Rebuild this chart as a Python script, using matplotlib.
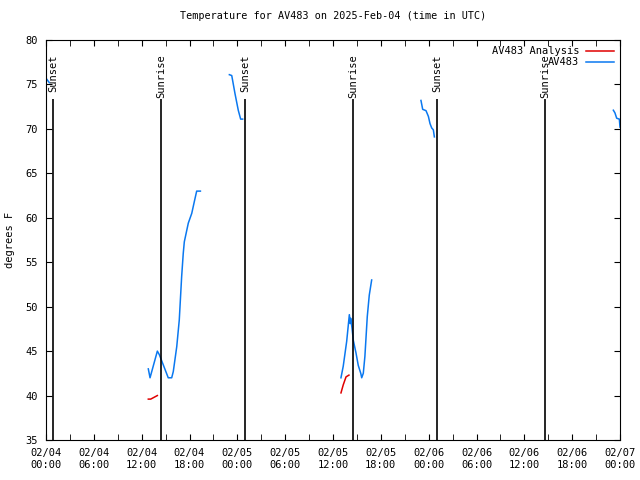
import matplotlib
matplotlib.use("Agg")
import matplotlib.pyplot as plt
import matplotlib.dates as mdates
from datetime import datetime

plt.rcParams['font.family'] = ['DejaVu Sans Mono']
plt.rcParams['font.size'] = 7.5

def ts(lst):
    return [datetime.strptime(s, "%m/%d %H:%M").replace(year=2025) for s in lst]

# observed temperature (blue), one list per contiguous segment
obs0_t = ["02/04 00:05", "02/04 00:25"]
obs0_v = [75.6, 75.2]
obs1_t = ["02/04 12:50", "02/04 13:03", "02/04 13:58", "02/04 14:13", "02/04 15:20",
          "02/04 15:46", "02/04 15:58", "02/04 16:24", "02/04 16:43", "02/04 16:54",
          "02/04 17:01", "02/04 17:13", "02/04 17:21", "02/04 17:51", "02/04 18:17",
          "02/04 18:36", "02/04 18:54", "02/04 19:22"]
obs1_v = [43, 42, 45, 44.6, 42, 42, 42.7, 45.5, 48.5, 51.5, 53.4, 56, 57.3, 59.4,
          60.5, 61.8, 63, 63]
obs2_t = ["02/04 23:00", "02/04 23:18", "02/04 23:42", "02/05 00:07", "02/05 00:25",
          "02/05 00:40"]
obs2_v = [76.1, 76, 74, 72.1, 71.1, 71.1]
obs3_t = ["02/05 13:00", "02/05 13:17", "02/05 13:43", "02/05 14:03", "02/05 14:10",
          "02/05 14:13", "02/05 14:23", "02/05 14:33", "02/05 14:53", "02/05 15:10",
          "02/05 15:29", "02/05 15:36", "02/05 15:48", "02/05 16:00", "02/05 16:18",
          "02/05 16:33", "02/05 16:51"]
obs3_v = [42.0, 43.3, 46.1, 49.1, 48.1, 48.7, 47.6, 46.2, 44.8, 43.4, 42.5, 42,
          42.5, 44.4, 48.9, 51.3, 53]
obs4_t = ["02/05 23:02", "02/05 23:15", "02/05 23:40", "02/05 23:58", "02/06 00:10",
          "02/06 00:23", "02/06 00:35", "02/06 00:43"]
obs4_v = [73.2, 72.2, 72.05, 71.4, 70.6, 70.1, 69.9, 69.1]
obs5_t = ["02/06 23:10", "02/06 23:22", "02/06 23:35", "02/06 23:55", "02/07 00:00"]
obs5_v = [72.1, 71.8, 71.2, 71.1, 70.2]

# analysis (red)
ana1_t = ["02/04 12:50", "02/04 13:08", "02/04 13:33", "02/04 13:58"]
ana1_v = [39.6, 39.6, 39.8, 40.0]
ana2_t = ["02/05 13:00", "02/05 13:17", "02/05 13:38", "02/05 14:00"]
ana2_v = [40.3, 41.2, 42.1, 42.3]

# sun events
sun_t = ["02/04 00:53", "02/04 14:26", "02/05 00:58", "02/05 14:31", "02/06 01:03",
         "02/06 14:35"]
sun_lab = ["Sunset", "Sunrise", "Sunset", "Sunrise", "Sunset", "Sunrise"]

blue = '#0a78f0'
red = '#e00000'

fig = plt.figure(figsize=(6.4, 4.8), dpi=100)
ax = fig.add_axes([46/640, 40/480, 574/640, 400/480])

segs = [(obs0_t, obs0_v), (obs1_t, obs1_v), (obs2_t, obs2_v), (obs3_t, obs3_v),
        (obs4_t, obs4_v), (obs5_t, obs5_v)]
for i, (t, v) in enumerate(segs):
    ax.plot(ts(t), v, color=blue, lw=1.1, label='AV483' if i == 0 else None)
for i, (t, v) in enumerate([(ana1_t, ana1_v), (ana2_t, ana2_v)]):
    ax.plot(ts(t), v, color=red, lw=1.1, label='AV483 Analysis' if i == 0 else None)

for t, lab in zip(ts(sun_t), sun_lab):
    ax.vlines(t, 35, 73.4, color='black', lw=1.2)
    ax.text(t, 78.4, lab, rotation=90, ha='center', va='top')

ax.set_xlim(datetime(2025, 2, 4), datetime(2025, 2, 7))
ax.set_ylim(35, 80)
ax.set_yticks(range(35, 81, 5))
ax.xaxis.set_major_locator(mdates.HourLocator(byhour=range(0, 24, 6)))
ax.xaxis.set_minor_locator(mdates.HourLocator(byhour=range(3, 24, 6)))
ax.xaxis.set_major_formatter(mdates.DateFormatter('%m/%d\n%H:%M'))
ax.tick_params(which='both', direction='in', top=True, right=True, length=4, pad=6)

ax.set_ylabel('degrees F')
ax.yaxis.set_label_coords(-31/574, 0.5)
ax.set_title('Temperature for AV483 on 2025-Feb-04 (time in UTC)', fontsize=7.3, pad=15)

h, l = ax.get_legend_handles_labels()
ax.legend(h[::-1], l[::-1], loc='upper right', frameon=False, markerfirst=False,
          handlelength=2.7, handletextpad=0.6, borderaxespad=0.2, labelspacing=0.1)

fig.savefig('out.png', dpi=100)
